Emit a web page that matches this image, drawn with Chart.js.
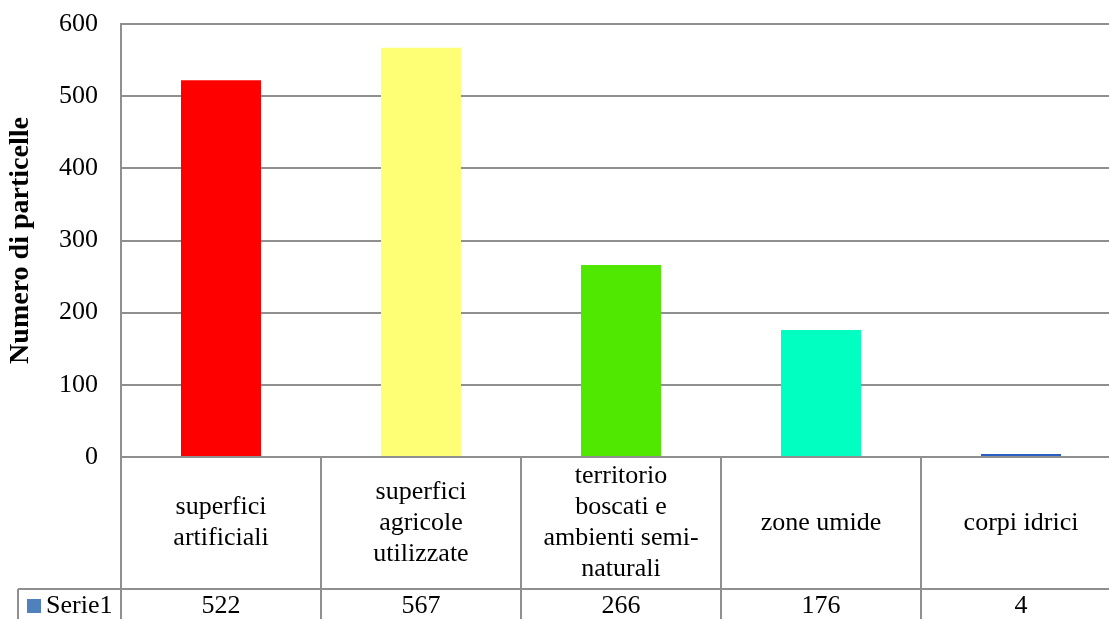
<!DOCTYPE html>
<html>
<head>
<meta charset="utf-8">
<script src="https://cdn.jsdelivr.net/npm/chart.js@4/dist/chart.umd.min.js"></script>
<style>
  html, body { margin: 0; padding: 0; background: #fff; overflow: hidden; }
  #wrap { width: 1109px; height: 619px; overflow: hidden; }
  canvas { display: block; }
</style>
</head>
<body>
<div id="wrap"><canvas id="chart" width="1125" height="619"></canvas></div>
<script>
'use strict';

// categorie (righe del testo nella tabella dati)
const categories = [
  ['superfici', 'artificiali'],
  ['superfici', 'agricole', 'utilizzate'],
  ['territorio', 'boscati e', 'ambienti semi-', 'naturali'],
  ['zone umide'],
  ['corpi idrici']
];
const seriesName = 'Serie1';
const values = [522, 567, 266, 176, 4];
const barColors = ['#ff0000', '#ffff75', '#50e800', '#00ffc0', '#2a5fc4'];
const yTicks = [0, 100, 200, 300, 400, 500, 600];
const yTitle = 'Numero di particelle';

const FONT = 'Liberation Serif, Times New Roman, serif';
const LINE = '#8f8f8f';

// tabella dati disegnata sotto l'area del grafico
const dataTablePlugin = {
  id: 'dataTable',
  afterDraw(chart) {
    const ctx = chart.ctx;
    const xs = chart.scales.x;
    const area = chart.chartArea;
    const H = chart.height;
    const n = categories.length;
    const catW = (area.right - area.left) / n;
    const rowTop = area.bottom + 132;

    ctx.save();
    ctx.strokeStyle = LINE;
    ctx.lineWidth = 2;
    ctx.beginPath();
    for (let i = 0; i <= n; i++) {
      const x = Math.round(xs.getPixelForValue(0) - catW / 2 + i * catW);
      ctx.moveTo(x, area.bottom);
      ctx.lineTo(x, H);
    }
    ctx.moveTo(18, rowTop);
    ctx.lineTo(chart.width, rowTop);
    ctx.moveTo(18, rowTop);
    ctx.lineTo(18, H);
    ctx.stroke();

    ctx.fillStyle = '#000';
    ctx.font = '26px ' + FONT;
    ctx.textAlign = 'center';
    ctx.textBaseline = 'middle';
    const lh = 31;
    const midY = (area.bottom + rowTop) / 2;
    categories.forEach((lines, i) => {
      const cx = xs.getPixelForValue(i);
      const y0 = midY - (lines.length - 1) * lh / 2;
      lines.forEach((t, j) => ctx.fillText(t, cx, y0 + j * lh));
      ctx.fillText(String(values[i]), cx, rowTop + 17);
    });

    ctx.fillStyle = '#4f81bd';
    ctx.fillRect(27, rowTop + 10, 14, 14);
    ctx.fillStyle = '#000';
    ctx.textAlign = 'left';
    ctx.fillText(seriesName, 46, rowTop + 17);
    ctx.restore();
  }
};

new Chart(document.getElementById('chart'), {
  type: 'bar',
  data: {
    labels: categories,
    datasets: [{
      label: seriesName,
      data: values,
      backgroundColor: barColors,
      borderWidth: 0,
      categoryPercentage: 1,
      barPercentage: 0.4
    }]
  },
  options: {
    responsive: false,
    animation: false,
    devicePixelRatio: 1,
    layout: { padding: { top: 24, left: 0, right: 4, bottom: 162 } },
    plugins: {
      legend: { display: false },
      tooltip: { enabled: false }
    },
    scales: {
      x: { display: false },
      y: {
        min: 0,
        max: 600,
        afterBuildTicks: (axis) => { axis.ticks = yTicks.map(v => ({ value: v })); },
        afterFit: (axis) => {
          axis.width = 121;
          axis.paddingTop = 14;
          axis.paddingBottom = 14;
        },
        ticks: { color: '#000', padding: 23, font: { family: FONT, size: 26 } },
        grid: { color: LINE, lineWidth: 2, drawTicks: false },
        border: { display: true, color: LINE, width: 2 },
        title: {
          display: true,
          text: yTitle,
          color: '#000',
          padding: { top: 4, bottom: 0 },
          font: { family: FONT, size: 28, weight: 'bold' }
        }
      }
    }
  },
  plugins: [dataTablePlugin]
});
</script>
</body>
</html>
